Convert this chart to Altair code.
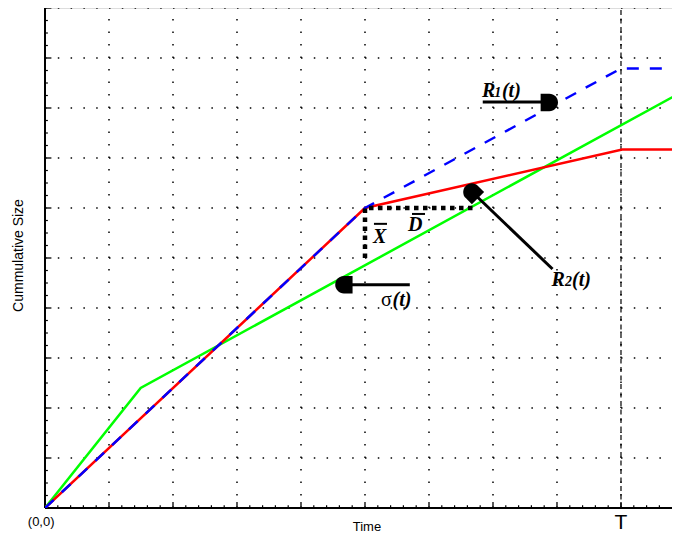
import altair as alt
import pandas as pd

# ---------------- data (one unit = one major grid step) ----------------
red_t = [0.0, 5.0, 9.02, 9.80]
red_y = [0.0, 6.0, 7.17, 7.17]
blue_t = [0.0, 5.0, 9.0, 9.80]
blue_y = [0.0, 6.0, 8.79, 8.79]
green_t = [0.0, 1.495, 9.92]
green_y = [0.0, 2.40, 8.30]
gap_t = [6.68, 5.0, 5.0]      # dotted bracket (D and X)
gap_y = [6.0, 6.0, 4.95]
T_pos = [9.0]

X_MAX = 9.797
Y_MAX = 10.0
x_major = [1, 2, 3, 4, 5, 6, 7, 8, 9]
y_major = [1, 2, 3, 4, 5, 6, 7, 8, 9, 10]
x_minor = [k / 5 for k in range(1, 49) if k % 5 != 0]
y_minor = [k / 4 for k in range(1, 40) if k % 4 != 0]

# arrows (R1, sigma, R2)
arrow_t = [6.84, 5.70, 7.93]
arrow_y = [8.12, 4.465, 4.78]
arrow_t2 = [7.80, 4.75, 6.74]
arrow_y2 = [8.12, 4.465, 6.24]
head_t = [7.88, 4.67, 6.67]
head_y = [8.11, 4.465, 6.32]
head_angle = [0, 180, 225]

# annotation text (serif bold italic)
lab_text = ["R", "(t)", "R", "(t)", "(t)", "X", "D"]
lab_t = [6.83, 7.14, 7.914, 8.234, 5.43, 5.125, 5.67]
lab_y = [8.23, 8.23, 4.45, 4.45, 4.05, 5.30, 5.54]
lab_size = [20, 20, 20, 20, 20, 20, 20]
sub_text = ["1", "2"]
sub_t = [7.02, 8.125]
sub_y = [8.23, 4.45]
sigma_t = [5.25]
sigma_y = [4.05]
over_t = [5.14, 5.734]
over_t2 = [5.344, 5.938]
over_y = [5.683, 5.881]

# plain text
plain_text = ["Time", "(0,0)"]
plain_t = [5.03, -0.06]
plain_y = [-0.37, -0.28]

SERIF = "Liberation Serif"
SANS = "Liberation Sans"

xs = alt.Scale(domain=[0, X_MAX], nice=False, zero=False)
ys = alt.Scale(domain=[0, Y_MAX], nice=False, zero=False)


def X(f, **kw):
    return alt.X(f, type="quantitative", scale=xs, axis=None, **kw)


def Y(f, **kw):
    return alt.Y(f, type="quantitative", scale=ys, axis=None, **kw)


# dotted grid
vg = pd.DataFrame({"t": x_major, "y0": 0.0, "y1": Y_MAX})
hg = pd.DataFrame({"y": y_major, "x0": 0.0, "x1": X_MAX})
grid_v = alt.Chart(vg).mark_rule(color="black", strokeWidth=1.5, strokeDash=[1.5, 11]).encode(
    x=X("t"), y=Y("y0"), y2="y1")
grid_h = alt.Chart(hg).mark_rule(color="black", strokeWidth=1.5, strokeDash=[1.5, 11.3]).encode(
    y=Y("y"), x=X("x0"), x2="x1")

# axis lines
ax_df = pd.DataFrame({"x0": [0.0, 0.0], "x1": [X_MAX, 0.0], "y0": [0.0, 0.0], "y1": [0.0, Y_MAX]})
axis_lines = alt.Chart(ax_df).mark_rule(color="black", strokeWidth=2).encode(
    x=X("x0"), x2="x1", y=Y("y0"), y2="y1")

# inward ticks
xt = pd.DataFrame({"t": x_major, "y0": 0.0, "y1": 0.12})
xm = pd.DataFrame({"t": x_minor, "y0": 0.0, "y1": 0.055})
yt = pd.DataFrame({"y": y_major, "x0": 0.0, "x1": 0.1})
ym = pd.DataFrame({"y": y_minor, "x0": 0.0, "x1": 0.045})
tick_x = alt.Chart(xt).mark_rule(color="black", strokeWidth=1.3).encode(x=X("t"), y=Y("y0"), y2="y1")
tick_xm = alt.Chart(xm).mark_rule(color="black", strokeWidth=1.2).encode(x=X("t"), y=Y("y0"), y2="y1")
tick_y = alt.Chart(yt).mark_rule(color="black", strokeWidth=1.3).encode(y=Y("y"), x=X("x0"), x2="x1")
tick_ym = alt.Chart(ym).mark_rule(color="black", strokeWidth=1.2).encode(y=Y("y"), x=X("x0"), x2="x1")

# T line
t_df = pd.DataFrame({"t": T_pos, "y0": 0.0, "y1": Y_MAX})
t_line = alt.Chart(t_df).mark_rule(color="black", strokeWidth=1.2, strokeDash=[5, 3.5]).encode(
    x=X("t"), y=Y("y0"), y2="y1")


def series(ts, vs, **mk):
    df = pd.DataFrame({"t": ts, "y": vs, "i": list(range(len(ts)))})
    return alt.Chart(df).mark_line(clip=True, **mk).encode(x=X("t"), y=Y("y"), order="i:Q")


green = series(green_t, green_y, color="#00ff00", strokeWidth=2.5)
red = series(red_t, red_y, color="#ff0000", strokeWidth=2.5)
blue = series(blue_t, blue_y, color="#0000ff", strokeWidth=2.5, strokeDash=[12, 11],
              strokeCap="butt")
gap = series(gap_t, gap_y, color="black", strokeWidth=4.5, strokeDash=[4.5, 4.5], strokeCap="butt")

# arrows
arr_df = pd.DataFrame({"t": arrow_t, "y": arrow_y, "t2": arrow_t2, "y2": arrow_y2})
arrows = alt.Chart(arr_df).mark_rule(color="black", strokeWidth=3).encode(
    x=X("t"), y=Y("y"), x2="t2", y2="y2")
head_df = pd.DataFrame({"t": head_t, "y": head_y, "a": head_angle})
heads = alt.Chart(head_df).mark_point(
    shape="M -1 -1 L 0 -1 A 1 1 0 0 1 0 1 L -1 1 Z",
    filled=True, color="black", opacity=1, size=300, strokeWidth=0).encode(
    x=X("t"), y=Y("y"), angle=alt.Angle("a:Q", scale=None))

# labels
lab_df = pd.DataFrame({"txt": lab_text, "t": lab_t, "y": lab_y, "s": lab_size})
labels = alt.Chart(lab_df).mark_text(
    font=SERIF, fontStyle="italic", fontWeight="bold", align="left",
    baseline="alphabetic", color="black").encode(
    x=X("t"), y=Y("y"), text="txt:N", size=alt.Size("s:Q", scale=None))
sub_df = pd.DataFrame({"txt": sub_text, "t": sub_t, "y": sub_y})
subs = alt.Chart(sub_df).mark_text(
    font=SERIF, fontStyle="italic", fontWeight="bold", fontSize=14, align="left",
    baseline="alphabetic", color="black").encode(x=X("t"), y=Y("y"), text="txt:N")
sig_df = pd.DataFrame({"txt": ["σ"], "t": sigma_t, "y": sigma_y})
sigma = alt.Chart(sig_df).mark_text(
    font=SERIF, fontSize=20, align="left", baseline="alphabetic", color="black").encode(
    x=X("t"), y=Y("y"), text="txt:N")
ov_df = pd.DataFrame({"t": over_t, "t2": over_t2, "y": over_y})
overl = alt.Chart(ov_df).mark_rule(color="black", strokeWidth=2).encode(
    x=X("t"), x2="t2", y=Y("y"))

plain_df = pd.DataFrame({"txt": plain_text, "t": plain_t, "y": plain_y})
plain = alt.Chart(plain_df).mark_text(
    font=SANS, fontSize=13, align="center", baseline="middle", color="black").encode(
    x=X("t"), y=Y("y"), text="txt:N")
tl_df = pd.DataFrame({"txt": ["T"], "t": T_pos, "y": [-0.30]})
t_label = alt.Chart(tl_df).mark_text(
    font=SANS, fontSize=21, align="center", baseline="middle", color="black").encode(
    x=X("t"), y=Y("y"), text="txt:N")
yt_df = pd.DataFrame({"txt": ["Cummulative Size"], "t": [-0.406], "y": [5.05]})
ytitle = alt.Chart(yt_df).mark_text(
    font=SANS, fontSize=14, align="center", baseline="middle", angle=270, color="black").encode(
    x=X("t"), y=Y("y"), text="txt:N")

chart = alt.layer(
    grid_h, grid_v, t_line, axis_lines, tick_x, tick_xm, tick_y, tick_ym,
    green, red, blue, gap, arrows, heads, labels, subs, sigma, overl,
    plain, t_label, ytitle,
).properties(
    width=627, height=500,
    padding={"left": 37, "top": 0, "right": 0, "bottom": 26},
    autosize=alt.AutoSizeParams(type="none"),
).configure_view(stroke=None).configure(background="white")

chart.save("out.html", embed_options={"renderer": "svg", "actions": False})
